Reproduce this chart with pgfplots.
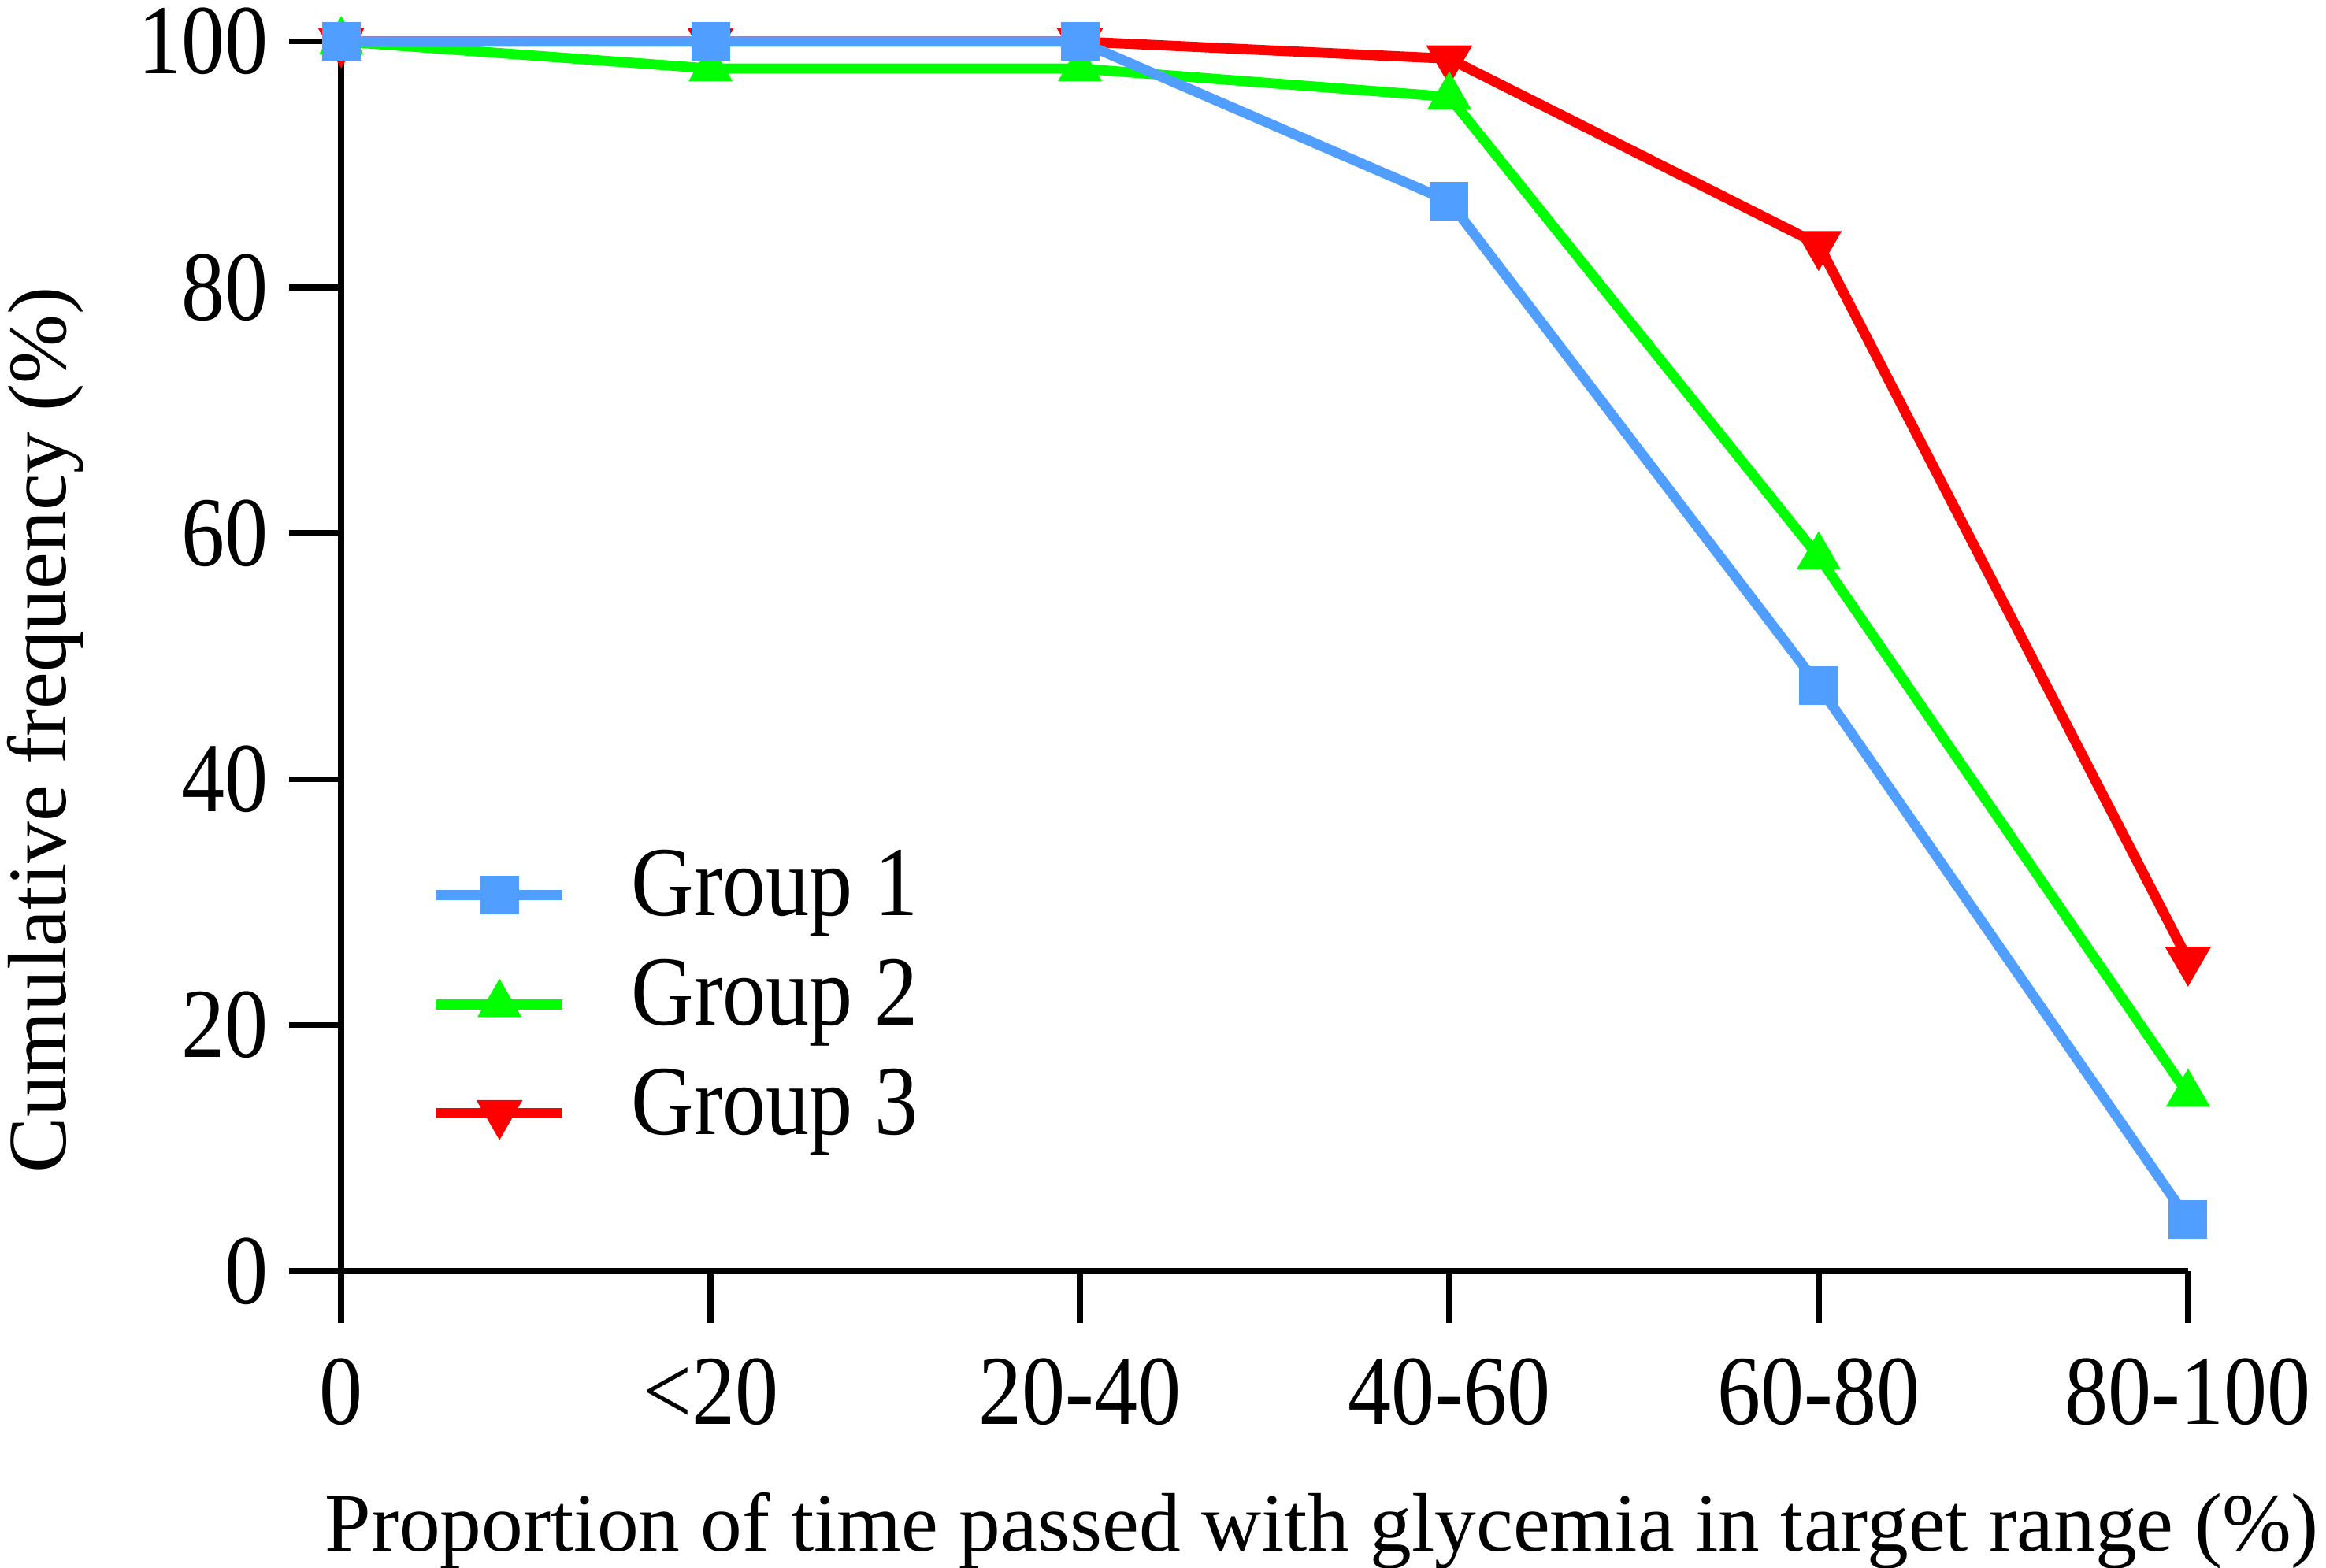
\documentclass[border=0pt]{standalone}
\usepackage{fontspec}
\setmainfont{Liberation Serif}
\newfontfamily\tickfont[FakeStretch=0.875]{Liberation Serif}
\usepackage{pgfplots}
\pgfplotsset{compat=1.18}
\definecolor{gblue}{RGB}{80,158,255}
\definecolor{ggreen}{RGB}{0,255,0}
\definecolor{gred}{RGB}{255,0,0}
\begin{document}
\begin{tikzpicture}
\begin{axis}[
  at={(0,0)}, anchor=south west,
  scale only axis,
  width=311.25pt, height=207.25pt,
  xmin=0, xmax=5, ymin=0, ymax=100,
  axis x line*=bottom, axis y line*=left,
  axis line style={line width=1pt, black},
  clip=false,
  xtick={0,1,2,3,4,5},
  xticklabels={0,{<20},20-40,40-60,60-80,80-100},
  ytick={0,20,40,60,80,100},
  tick align=outside,
  major tick length=8.8pt,
  tick style={line width=1pt, black},
  /pgf/number format/assume math mode=true,
  ticklabel style={font=\tickfont\fontsize{16.7}{20}\selectfont},
  xticklabel style={anchor=base, yshift=-17pt},
  yticklabel style={anchor=east, xshift=0pt},
  xlabel={Proportion of time passed with glycemia in target range (\%)},
  ylabel={Cumulative frequency (\%)},
  label style={font=\fontsize{14}{17}\selectfont},
  xlabel style={at={(axis description cs:0.531,-0.211)}, anchor=center},
  ylabel style={at={(axis description cs:-0.160,0.44)}, anchor=center},
  legend style={draw=none, fill=none, at={(axis cs:0.241,21.7)}, anchor=west,
    inner sep=0pt, column sep=10.75pt, row sep=5.4pt,
    nodes={inner sep=0pt, text height=10pt, text depth=3pt},
    font=\tickfont\fontsize{16.7}{20}\selectfont},
  legend cell align=left,
  reverse legend,
  legend image code/.code={\draw[mark repeat=2,mark phase=2,#1] plot coordinates {(0pt,0pt) (10.625pt,0pt) (21.25pt,0pt)};},
]
\addplot[gred, line width=1.7pt, mark=triangle*, mark size=2.8pt, mark options={rotate=180, solid}]
  coordinates {(0,100) (1,100) (2,100) (3,98.6) (4,83.5) (5,25.3)};
\addlegendentry{Group 3}
\addplot[ggreen, line width=1.7pt, mark=triangle*, mark size=2.6pt, mark options={solid}]
  coordinates {(0,100) (1,97.8) (2,97.8) (3,95.5) (4,58.1) (5,14.4)};
\addlegendentry{Group 2}
\addplot[gblue, line width=1.7pt, mark=square*, mark size=2.4pt, mark options={solid}]
  coordinates {(0,100) (1,100) (2,100) (3,87.0) (4,47.6) (5,4.2)};
\addlegendentry{Group 1}
\end{axis}
\pgfresetboundingbox
\path[use as bounding box] (-57.5pt,-50pt) rectangle (334.5pt,214.25pt);
\end{tikzpicture}
\end{document}
